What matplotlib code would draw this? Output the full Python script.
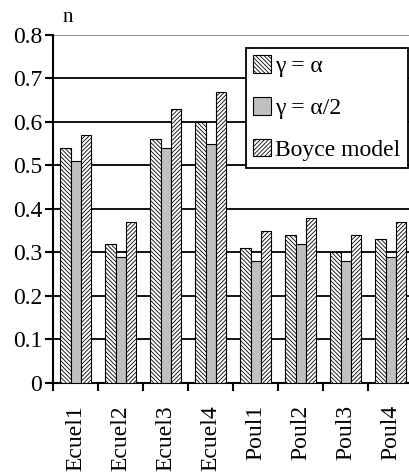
import matplotlib.pyplot as plt
import numpy as np

plt.rcParams['font.family'] = ['Liberation Serif', 'DejaVu Serif']
plt.rcParams['hatch.linewidth'] = 0.6

samples = ['Ecuel1', 'Ecuel2', 'Ecuel3', 'Ecuel4', 'Poul1', 'Poul2', 'Poul3', 'Poul4']
n_gamma_alpha = [0.54, 0.32, 0.56, 0.60, 0.31, 0.34, 0.30, 0.33]
n_gamma_half = [0.51, 0.29, 0.54, 0.55, 0.28, 0.32, 0.28, 0.29]
n_boyce = [0.57, 0.37, 0.63, 0.67, 0.35, 0.38, 0.34, 0.37]

fig = plt.figure(figsize=(4.09, 4.76), dpi=100)
ax = fig.add_axes([0.130, 0.1954, 0.880, 0.7311])

x = np.arange(len(samples))
w = 0.225
ax.bar(x - w, n_gamma_alpha, w, facecolor='white', edgecolor='black',
       hatch='\\' * 8, linewidth=0.8, label='γ = α', zorder=3)
ax.bar(x, n_gamma_half, w, facecolor='#c0c0c0', edgecolor='black',
       linewidth=0.8, label='γ = α/2', zorder=3)
ax.bar(x + w, n_boyce, w, facecolor='white', edgecolor='black',
       hatch='/' * 8, linewidth=0.8, label='Boyce model', zorder=3)

ax.set_xlim(-0.5, len(samples) - 0.5)
ax.set_ylim(0, 0.8)
ax.set_yticks(np.arange(0, 0.81, 0.1))
ax.set_yticklabels(['0'] + ['%.1f' % v for v in np.arange(0.1, 0.81, 0.1)], fontsize=17)
for v in np.arange(0.1, 0.75, 0.1):
    ax.axhline(v, color='black', linewidth=1.3, zorder=1)
ax.axhline(0.8, color='#888888', linewidth=1.3, zorder=1)

ax.set_xticks(x)
ax.set_xticklabels(samples, rotation=90, fontsize=17)
ax.tick_params(axis='x', length=0, pad=16)
ax.set_xticks(np.arange(-0.5, len(samples)), minor=True)
ax.tick_params(axis='x', which='minor', length=6, width=1.5, direction='out')
ax.tick_params(axis='y', length=6, width=1.5, direction='out', pad=2)

for side in ['top', 'right']:
    ax.spines[side].set_visible(False)
for side in ['left', 'bottom']:
    ax.spines[side].set_linewidth(1.5)

ax.text(0.025, 1.022, 'n', transform=ax.transAxes, fontsize=15, ha='left', va='bottom')

leg = ax.legend(loc='upper right', bbox_to_anchor=(0.985, 0.962), fontsize=17,
                fancybox=False, framealpha=1, edgecolor='black', borderpad=0.3,
                handlelength=0.75, handleheight=0.75, handletextpad=0.2,
                labelspacing=0.85, borderaxespad=0)
leg.get_frame().set_linewidth(1.3)
leg.set_zorder(5)

fig.savefig('out.png', dpi=100)
